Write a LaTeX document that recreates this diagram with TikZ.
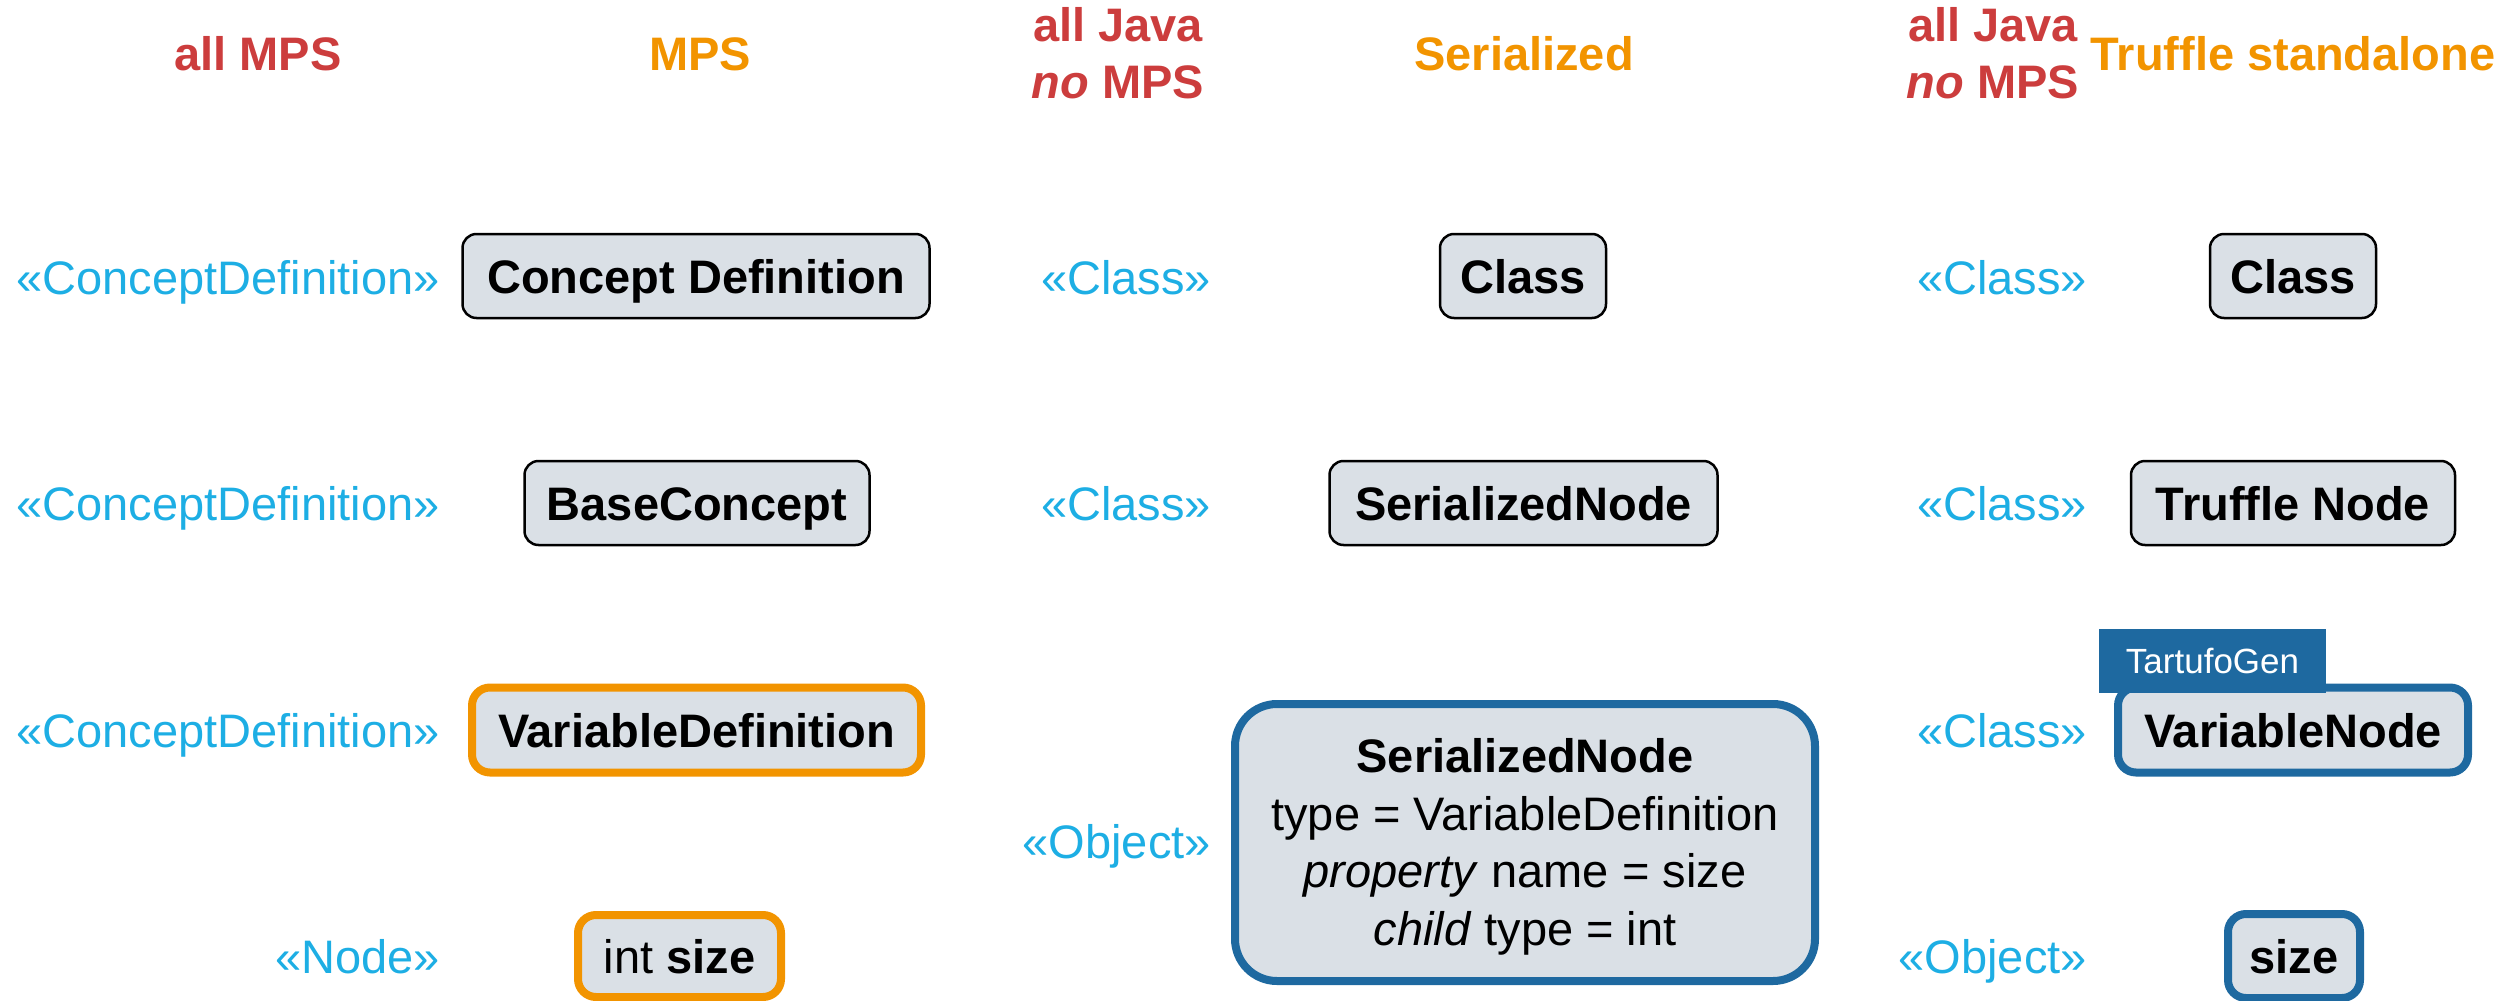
\documentclass[tikz,border=0pt]{standalone}
\usepackage{fontspec}
\setmainfont{Liberation Sans}
\definecolor{hdrred}{RGB}{204,61,61}
\definecolor{hdrorange}{RGB}{242,148,0}
\definecolor{stereocol}{RGB}{29,174,228}
\definecolor{boxfill}{RGB}{218,224,230}
\definecolor{tartblue}{RGB}{30,105,160}
\begin{document}
\begin{tikzpicture}[x=1pt,y=-1pt,
  hdr/.style={inner sep=0pt, anchor=base, font=\fontsize{47}{56}\selectfont\bfseries},
  hdrR/.style={hdr, text=hdrred},
  hdrO/.style={hdr, text=hdrorange},
  txt/.style={inner sep=0pt, text height=34pt, text depth=0pt, font=\fontsize{47}{56}\selectfont},
  stereo/.style={txt, anchor=east, text=stereocol},
  plainbox/.style={txt, draw=black, line width=2.5pt, fill=boxfill, rounded corners=14pt, font=\fontsize{47}{56}\selectfont\bfseries},
  orangebox/.style={txt, draw=hdrorange, line width=8pt, fill=boxfill, rounded corners=18pt},
  bluebox/.style={txt, draw=tartblue, line width=8pt, fill=boxfill, rounded corners=18pt},
  boldtext/.style={font=\fontsize{47}{56}\selectfont\bfseries},
  line/.style={inner sep=0pt, anchor=base, font=\fontsize{47}{56}\selectfont}
]
\useasboundingbox (0,0) rectangle (2504,1001);

% headers
\node[hdrR] (h1) at (258,70) {all MPS};
\node[hdrO] (h2) at (700,70) {MPS};
\node[hdrR] (h3a) at (1118,41) {all Java};
\node[hdrR] (h3b) at (1118,98) {\textit{no} MPS};
\node[hdrO] (h4) at (1524,70) {Serialized};
\node[hdrR] (h5a) at (1993,41) {all Java};
\node[hdrR] (h5b) at (1993,98) {\textit{no} MPS};
\node[hdrO] (h6) at (2293,70) {Truffle standalone};

% stereotypes
\node[stereo] (s11) at (440,277) {«ConceptDefinition»};
\node[stereo] (s12) at (440,503) {«ConceptDefinition»};
\node[stereo] (s13) at (440,730) {«ConceptDefinition»};
\node[stereo] (s14) at (440,956) {«Node»};
\node[stereo] (s21) at (1211,277) {«Class»};
\node[stereo] (s22) at (1211,503) {«Class»};
\node[stereo] (s23) at (1211,841) {«Object»};
\node[stereo] (s31) at (2087,277) {«Class»};
\node[stereo] (s32) at (2087,503) {«Class»};
\node[stereo] (s33) at (2087,730) {«Class»};
\node[stereo] (s34) at (2087,956) {«Object»};

% MPS column
\node[plainbox, minimum width=467pt, minimum height=84pt] (cd) at (696,276) {Concept Definition};
\node[plainbox, minimum width=345pt, minimum height=84pt] (bc) at (697,503) {BaseConcept};
\node[orangebox, boldtext, minimum width=449pt, minimum height=85pt] (vd) at (696.5,730) {VariableDefinition};
\node[orangebox, minimum width=203pt, minimum height=82pt] (is) at (679.5,956) {int \textbf{size}};

% Serialized column
\node[plainbox, minimum width=166pt, minimum height=84pt] (cl2) at (1523,276) {Class};
\node[plainbox, minimum width=388pt, minimum height=84pt] (sn) at (1523.5,503) {SerializedNode};
\node[bluebox, rounded corners=42pt, minimum width=580pt, minimum height=277pt] (obj) at (1525,842.5) {};
\node[line, font=\fontsize{47}{56}\selectfont\bfseries] (o1) at (obj.center |- 0,772) {SerializedNode};
\node[line] (o2) at (obj.center |- 0,830) {type = VariableDefinition};
\node[line] (o3) at (obj.center |- 0,887) {\textit{property} name = size};
\node[line] (o4) at (obj.center |- 0,945) {\textit{child} type = int};

% Truffle column
\node[plainbox, minimum width=166pt, minimum height=84pt] (cl3) at (2293,276) {Class};
\node[plainbox, minimum width=324pt, minimum height=84pt] (tn) at (2293,503) {Truffle Node};
\node[bluebox, boldtext, minimum width=350pt, minimum height=85pt] (vn) at (2293,730) {VariableNode};
\node[fill=tartblue, text=white, inner sep=0pt, text height=25pt, text depth=0pt,
      font=\fontsize{35}{40}\selectfont, minimum width=227pt, minimum height=64pt] (tab) at (2212.5,661) {TartufoGen};
\node[bluebox, boldtext, minimum width=132pt, minimum height=84pt] (sz) at (2294,956) {size};
\end{tikzpicture}
\end{document}
